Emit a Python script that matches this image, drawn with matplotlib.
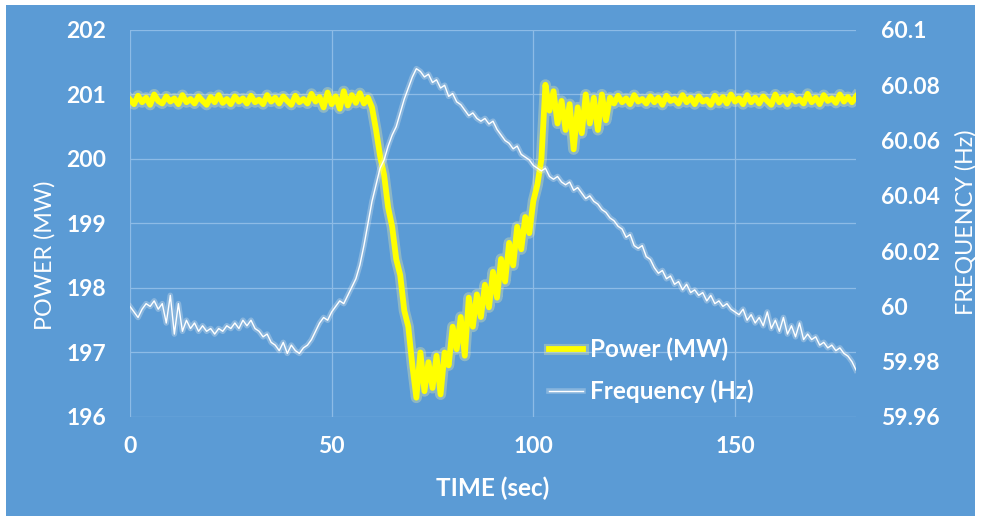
import numpy as np
import matplotlib.pyplot as plt
import matplotlib.patheffects as pe
from matplotlib.patches import Rectangle

plt.rcParams['font.family'] = ['Lato', 'DejaVu Sans']

# time axis, one sample per second
time = np.arange(0, 181)

power = [200.92, 200.85, 200.98, 200.88, 200.95, 200.84, 201.00, 200.90, 200.86, 200.97,
         200.89, 200.94, 200.85, 200.99, 200.88, 200.93, 200.86, 200.97, 200.90, 200.84,
         200.96, 200.88, 200.99, 200.87, 200.93, 200.85, 200.97, 200.89, 200.94, 200.86,
         200.98, 200.88, 200.92, 200.85, 200.99, 200.89, 200.95, 200.86, 200.97, 200.90,
         200.84, 200.98, 200.88, 200.93, 200.86, 201.01, 200.89, 200.96, 200.80, 201.03,
         200.85, 200.97, 200.78, 201.05, 200.83, 200.99, 200.87, 201.02, 200.86, 200.95,
         200.80, 200.45, 200.05, 199.75, 199.25, 198.95, 198.45, 198.20, 197.65, 197.40,
         196.80, 196.30, 197.00, 196.40, 196.85, 196.45, 196.95, 196.35, 197.00, 196.80,
         197.40, 197.05, 197.55, 196.95, 197.85, 197.40, 197.90, 197.55, 198.05, 197.70,
         198.25, 197.85, 198.45, 198.10, 198.70, 198.35, 198.95, 198.60, 199.10, 198.85,
         199.35, 199.60, 200.00,
         201.15, 200.75, 201.05, 200.55, 200.90, 200.45, 200.85, 200.15, 200.80, 200.40,
         201.00, 200.55, 200.95, 200.45, 201.00, 200.60,
         200.95, 200.86, 200.98, 200.88, 200.94, 200.85, 200.99, 200.89, 200.93, 200.86,
         200.97, 200.88, 200.95, 200.84, 200.98, 200.90, 200.93, 200.86, 200.99, 200.88,
         200.95, 200.85, 200.97, 200.89, 200.92, 200.84, 200.98, 200.87, 200.96, 200.86,
         201.00, 200.89, 200.94, 200.85, 200.99, 200.88, 200.95, 200.86, 200.97, 200.90,
         200.84, 201.00, 200.88, 200.96, 200.85, 200.98, 200.89, 200.93, 200.86, 201.01,
         200.88, 200.95, 200.85, 200.99, 200.90, 200.94, 200.87, 201.00, 200.89, 200.96,
         200.88, 200.97]

freq = [60.000, 59.998, 59.996, 59.999, 60.001, 60.000, 60.002, 59.999, 60.001, 59.994,
        60.004, 59.990, 60.001, 59.991, 59.995, 59.992, 59.994, 59.991, 59.993, 59.991,
        59.992, 59.990, 59.992, 59.991, 59.993, 59.992, 59.994, 59.992, 59.995, 59.993,
        59.995, 59.992, 59.991, 59.989, 59.990, 59.987, 59.986, 59.984, 59.987, 59.983,
        59.986, 59.984, 59.983, 59.985, 59.986, 59.988, 59.991, 59.994, 59.996, 59.995,
        59.998, 60.000, 60.002, 60.001, 60.004, 60.007, 60.010, 60.015, 60.022, 60.030,
        60.038, 60.044, 60.050, 60.053, 60.058, 60.062, 60.065, 60.070, 60.075, 60.079,
        60.083, 60.086, 60.085, 60.083, 60.084, 60.081, 60.082, 60.079, 60.080, 60.076,
        60.077, 60.074, 60.073, 60.071, 60.069, 60.070, 60.068, 60.067, 60.068, 60.066,
        60.067, 60.064, 60.062, 60.060, 60.059, 60.057, 60.058, 60.055, 60.054, 60.053,
        60.051, 60.050, 60.049, 60.050, 60.047, 60.046, 60.047, 60.045, 60.044, 60.045,
        60.042, 60.043, 60.041, 60.039, 60.040, 60.038, 60.037, 60.035, 60.034, 60.032,
        60.031, 60.029, 60.028, 60.025, 60.026, 60.022, 60.021, 60.022, 60.018, 60.017,
        60.014, 60.012, 60.013, 60.010, 60.011, 60.008, 60.009, 60.006, 60.008, 60.005,
        60.006, 60.004, 60.005, 60.002, 60.004, 60.001, 60.002, 60.000, 60.001, 59.999,
        59.998, 59.997, 59.999, 59.995, 59.997, 59.994, 59.996, 59.993, 59.998, 59.992,
        59.995, 59.991, 59.996, 59.990, 59.993, 59.989, 59.994, 59.988, 59.990, 59.988,
        59.989, 59.986, 59.987, 59.985, 59.986, 59.984, 59.985, 59.983, 59.982, 59.980, 59.977]

x_ticks = [0, 50, 100, 150]
power_ticks = [196, 197, 198, 199, 200, 201, 202]
freq_ticks = [59.96, 59.98, 60.0, 60.02, 60.04, 60.06, 60.08, 60.1]
freq_labels = ['59.96', '59.98', '60', '60.02', '60.04', '60.06', '60.08', '60.1']

blue = '#5B9BD5'
grid_col = '#8DBBE6'

fig = plt.figure(figsize=(9.81, 5.23), dpi=100, facecolor='white')
fig.patches.append(Rectangle((6/981, 1-516/523), 969/981, 511/523,
                             transform=fig.transFigure, facecolor=blue,
                             edgecolor='none', zorder=-1))

ax = fig.add_axes([0.1325, 0.2027, 0.7401, 0.7400])
ax.set_facecolor('none')
ax2 = ax.twinx()

l1, = ax.plot(time, power, color='#FFFF00', lw=4.2, label='Power (MW)',
              path_effects=[pe.Stroke(linewidth=8, foreground='#FFF6A0', alpha=0.3), pe.Normal()])
l2, = ax2.plot(time, freq, color='white', lw=1.0, label='Frequency (Hz)',
               path_effects=[pe.Stroke(linewidth=4, foreground='#F2F2F2', alpha=0.3), pe.Normal()])

ax.set_xlim(0, 180)
ax.set_ylim(196, 202)
ax2.set_ylim(59.96, 60.1)
ax.set_xticks(x_ticks)
ax.set_yticks(power_ticks)
ax2.set_yticks(freq_ticks)
ax2.set_yticklabels(freq_labels)

ax.grid(True, color=grid_col, lw=0.9)
for a in (ax, ax2):
    for s in a.spines.values():
        s.set_visible(False)
ax.tick_params(axis='x', length=0, pad=14, labelsize=16.5, labelcolor='white')
ax.tick_params(axis='y', length=0, pad=17, labelsize=16.5, labelcolor='white')
ax2.tick_params(axis='y', length=0, pad=18, labelsize=16.5, labelcolor='white')
for lab in ax.get_xticklabels() + ax.get_yticklabels() + ax2.get_yticklabels():
    lab.set_fontweight('bold')

fig.text(45/981, 1-255/523, 'POWER (MW)', rotation=90, ha='center', va='center',
         color='white', fontsize=16.8)
fig.text(966/981, 1-222/523, 'FREQUENCY (Hz)', rotation=90, ha='center', va='center',
         color='white', fontsize=16.8)
fig.text(493/981, 1-488/523, 'TIME (sec)', ha='center', va='center',
         color='white', fontsize=17.5, fontweight='bold')

leg = ax2.legend(handles=[l1, l2], loc='lower left', bbox_to_anchor=(0.547, -0.021),
                 frameon=False, fontsize=17.5, handlelength=1.4, labelspacing=0.75,
                 handletextpad=0.3)
for t in leg.get_texts():
    t.set_color('white')
    t.set_fontweight('bold')

fig.savefig('out.png', dpi=100, facecolor='white')
